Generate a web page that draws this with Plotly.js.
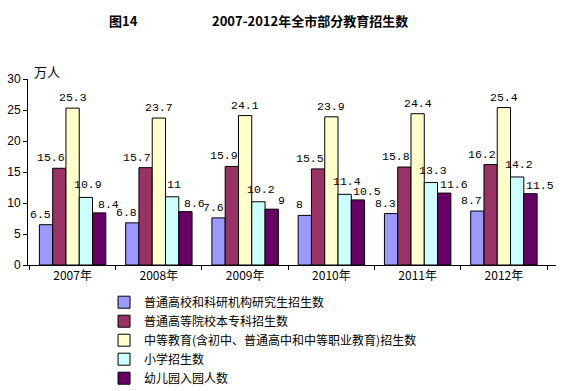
<!DOCTYPE html>
<html><head><meta charset="utf-8">
<script src="https://cdn.plot.ly/plotly-3.0.1.min.js"></script>
<style>body{margin:0;background:#fff}#c{width:564px;height:391px}</style>
</head><body><div id="c"></div>
<script>
const years = ["2007年","2008年","2009年","2010年","2011年","2012年"];
const seriesNames = ["普通高校和科研机构研究生招生数","普通高等院校本专科招生数","中等教育(含初中、普通高中和中等职业教育)招生数","小学招生数","幼儿园入园人数"];
const graduate = [6.5,6.8,7.6,8,8.3,8.7];
const college = [15.6,15.7,15.9,15.5,15.8,16.2];
const secondary = [25.3,23.7,24.1,23.9,24.4,25.4];
const primary = [10.9,11,10.2,11.4,13.3,14.2];
const kindergarten = [8.4,8.6,9,10.5,11.6,11.5];
const colors = ["#9999FF","#993366","#FFFFCC","#CCFFFF","#660066"];
const allSeries = [graduate,college,secondary,primary,kindergarten];

const W = 564, H = 391, ML = 28, MR = 8, MT = 79, MB = 126;
const bargap = 0.23;
const catW = (W - ML - MR) / years.length;
const barW = catW * (1 - bargap) / allSeries.length;
const labelNudge = [-5, -8, 0, 2, 9];
const labelLift = [2, 2, 2, 4, 0];

const traces = allSeries.map((v,i)=>({
  type:"bar", x:years, y:v, name:seriesNames[i],
  marker:{color:colors[i], line:{color:"#000", width:1}}
}));

const labels = [];
allSeries.forEach((v,i)=>{
  v.forEach((val,j)=>{
    labels.push({x:years[j], y:val, xref:"x", yref:"y", text:String(val),
      xshift:(i-(allSeries.length-1)/2)*barW + labelNudge[i], yshift:labelLift[i], yanchor:"bottom", xanchor:"center",
      showarrow:false,
      font:{family:"Liberation Mono, DejaVu Sans Mono, monospace", size:11.5, color:"#000"}});
  });
});

const layout = {
  width:W, height:H,
  margin:{l:ML,r:MR,t:MT,b:MB, autoexpand:false},
  paper_bgcolor:"#fff", plot_bgcolor:"#fff",
  barmode:"group", bargap:bargap, bargroupgap:0,
  showlegend:true,
  legend:{x:0.144, xanchor:"left", y:-0.122, yanchor:"top", orientation:"v",
    font:{family:"Noto Sans CJK SC, sans-serif", size:12, color:"#000"},
    itemwidth:30, tracegroupgap:0, bgcolor:"rgba(0,0,0,0)"},
  xaxis:{type:"category", showline:true, linecolor:"#000", linewidth:1,
    ticks:"outside", tickson:"boundaries", ticklen:4, tickcolor:"#000",
    tickfont:{family:"Noto Sans CJK SC, sans-serif", size:12, color:"#000"},
    showgrid:false, zeroline:false},
  yaxis:{range:[0,30], dtick:5, showline:true, linecolor:"#000", linewidth:1,
    ticks:"outside", ticklen:4, tickcolor:"#000", showgrid:false, zeroline:false,
    tickfont:{family:"Liberation Sans, sans-serif", size:12, color:"#000"}},
  annotations:[
    {text:"<b>图14</b>", xref:"paper", yref:"paper", x:(107-28)/528, xanchor:"left", y:(265-20)/186, yanchor:"middle", showarrow:false,
     font:{family:"Noto Sans CJK SC, sans-serif", size:13, color:"#000"}},
    {text:"<b>2007-2012年全市部分教育招生数</b>", xref:"paper", yref:"paper", x:(210-28)/528, xanchor:"left", y:(265-20)/186, yanchor:"middle", showarrow:false,
     font:{family:"Noto Sans CJK SC, sans-serif", size:13, color:"#000"}},
    {text:"万人", xref:"paper", yref:"paper", x:(32-28)/528, xanchor:"left", y:(265-71)/186, yanchor:"middle", showarrow:false,
     font:{family:"Noto Sans CJK SC, sans-serif", size:13, color:"#000"}}
  ].concat(labels)
};
Plotly.newPlot("c", traces, layout, {displayModeBar:false, staticPlot:true});
</script></body></html>
